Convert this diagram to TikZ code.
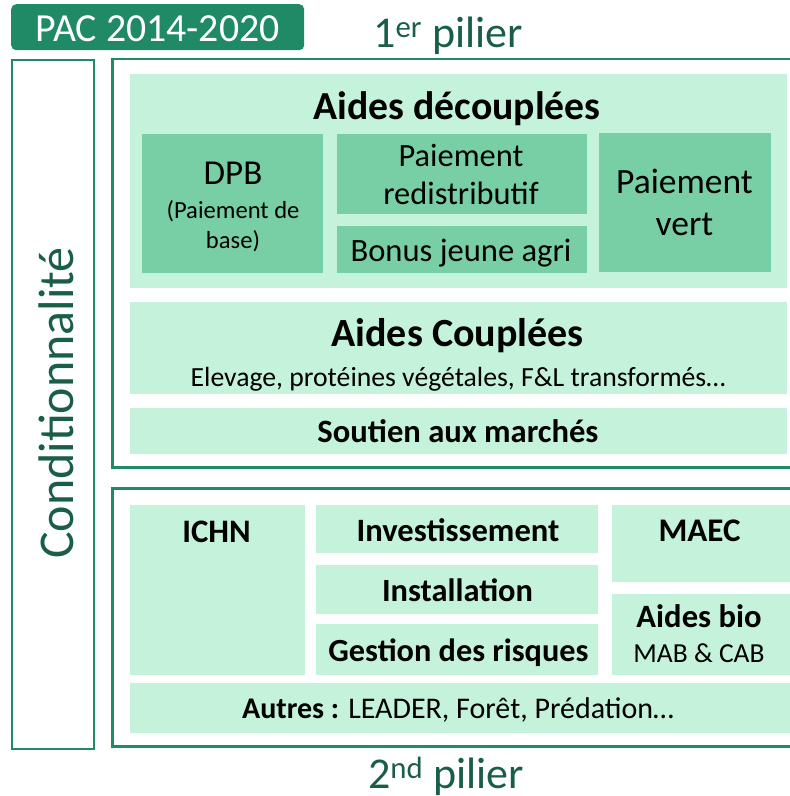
\documentclass[tikz,border=0pt]{standalone}
\usepackage{fontspec}
\setmainfont{Carlito}
\definecolor{dkgreen}{HTML}{1F8A65}
\definecolor{txgreen}{HTML}{1A5E48}
\definecolor{lightf}{HTML}{C4F2DA}
\definecolor{medf}{HTML}{78CFA5}
\tikzset{
  lbox/.style={fill=lightf, draw=none, anchor=north west, inner sep=0pt},
  mbox/.style={fill=medf, draw=none, anchor=north west, inner sep=0pt},
  frame/.style={draw=dkgreen, line width=2.5pt},
  txt/.style={inner sep=0pt, align=center, text=black},
  fs/.style={font=\fontsize{#1}{#1}\selectfont}
}
\begin{document}
\begin{tikzpicture}[x=1pt,y=-1pt]
\useasboundingbox (0,0) rectangle (790,796);
% badge
\node[fill=dkgreen, rounded corners=5pt, anchor=north west, minimum width=293pt, minimum height=46pt, inner sep=0pt] (badge) at (11,4) {};
\node[txt, text=white, fs=39.8, anchor=base] (badget) at (157.5,41) {PAC 2014-2020};
\node[txt, text=txgreen, fs=44, anchor=base] (p1) at (448,47) {1\textsuperscript{er} pilier};
% conditionnalite
\node[frame, anchor=north west, minimum width=82pt, minimum height=689pt, inner sep=0pt] (cond) at (10.5,58.5) {};
\node[txt, text=txgreen, fs=50, rotate=90] (condt) at (56,403) {Conditionnalité};
% frames
\coordinate (f1a) at (795,59);
\coordinate (f1b) at (112.5,59);
\coordinate (f1c) at (112.5,467.5);
\coordinate (f1d) at (795,467.5);
\draw[frame] (f1a) -- (f1b) -- (f1c) -- (f1d);
\coordinate (f2a) at (795,488.5);
\coordinate (f2b) at (112.5,488.5);
\coordinate (f2c) at (112.5,746.5);
\coordinate (f2d) at (795,746.5);
\draw[frame] (f2a) -- (f2b) -- (f2c) -- (f2d);
% aides decouplees
\node[lbox, minimum width=657pt, minimum height=214pt] (ad) at (130,74) {};
\node[txt, fs=39.7, anchor=base] (adt) at (457,119) {\bfseries Aides découplées};
\node[mbox, minimum width=181pt, minimum height=139pt] (dpb) at (142,134) {};
\node[txt, fs=35, anchor=base] (dpbt) at (233,184) {DPB};
\node[txt, fs=24.6, anchor=base] (dpbs) at (233,218) {(Paiement de};
\node[txt, fs=24.6, anchor=base] (dpbs2) at (233,248) {base)};
\node[mbox, minimum width=250pt, minimum height=80pt] (pr) at (337,134) {};
\node[txt, fs=32.4, anchor=base] (prt) at (461,166) {Paiement};
\node[txt, fs=32.4, anchor=base] (prt2) at (461,204) {redistributif};
\node[mbox, minimum width=250pt, minimum height=47pt] (bja) at (337,226) {};
\node[txt, fs=32.6, anchor=base] (bjat) at (461,261) {Bonus jeune agri};
\node[mbox, minimum width=172pt, minimum height=139pt] (pv) at (599,133) {};
\node[txt, fs=35.5, anchor=base] (pvt) at (684.5,193) {Paiement};
\node[txt, fs=35.5, anchor=base] (pvt2) at (684.5,235) {vert};
% aides couplees
\node[lbox, minimum width=657pt, minimum height=92pt] (ac) at (130,302) {};
\node[txt, fs=40, anchor=base] (act) at (457.5,346) {\bfseries Aides Couplées};
\node[txt, fs=27.7, anchor=base] (acs) at (458,386) {Elevage, protéines végétales, F\&L transformés…};
% soutien
\node[lbox, minimum width=657pt, minimum height=46pt] (sm) at (130,408) {};
\node[txt, fs=32.6, anchor=base] (smt) at (458,442) {\bfseries Soutien aux marchés};
% second pillar
\node[lbox, minimum width=175pt, minimum height=170pt] (ichn) at (130,505) {};
\node[txt, fs=32.8, anchor=base] (ichnt) at (216.5,542) {\bfseries ICHN};
\node[lbox, minimum width=282pt, minimum height=48pt] (inv) at (316,505) {};
\node[txt, fs=32.6, anchor=base] (invt) at (458,541) {\bfseries Investissement};
\node[lbox, minimum width=282pt, minimum height=49pt] (ins) at (316,565) {};
\node[txt, fs=32.4, anchor=base] (inst) at (457.5,601) {\bfseries Installation};
\node[lbox, minimum width=282pt, minimum height=51pt] (gr) at (316,624) {};
\node[txt, fs=32.3, anchor=base] (grt) at (458.5,661) {\bfseries Gestion des risques};
\node[lbox, minimum width=180pt, minimum height=77pt] (maec) at (612,505) {};
\node[txt, fs=33, anchor=base] (maect) at (699.5,541) {\bfseries MAEC};
\node[lbox, minimum width=180pt, minimum height=81pt] (bio) at (612,594) {};
\node[txt, fs=32.6, anchor=base] (biot) at (699,627) {\bfseries Aides bio};
\node[txt, fs=27.5, anchor=base] (bios) at (699,662) {MAB \& CAB};
\node[lbox, minimum width=662pt, minimum height=50pt] (aut) at (130,683) {};
\node[txt, fs=30, anchor=base] (autt) at (458,718) {\textbf{Autres :} LEADER, Forêt, Prédation…};
\node[txt, text=txgreen, fs=44, anchor=base] (p2) at (446,788) {2\textsuperscript{nd} pilier};
\end{tikzpicture}
\end{document}
